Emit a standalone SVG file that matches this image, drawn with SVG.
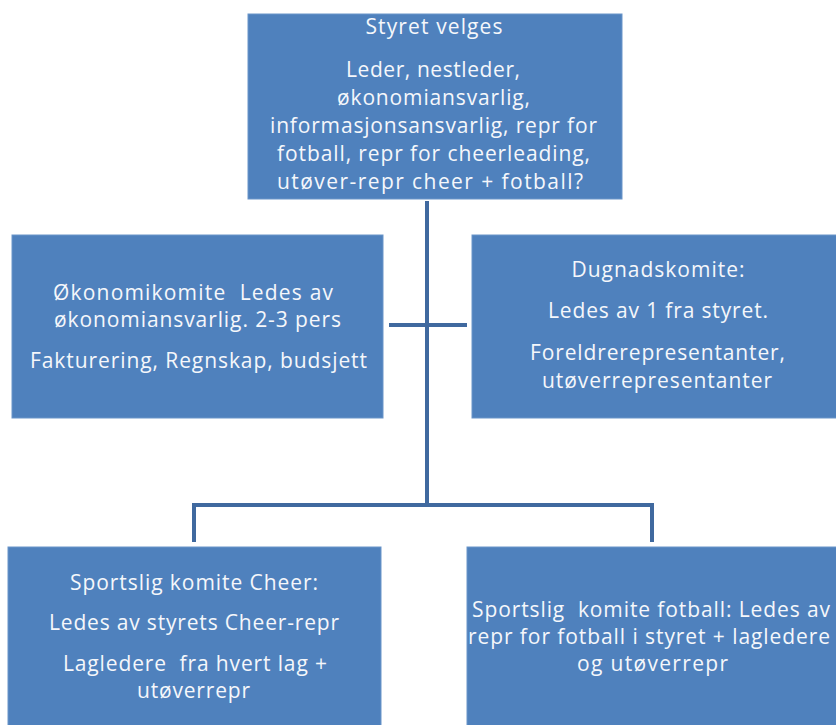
<svg xmlns="http://www.w3.org/2000/svg" width="836" height="725" viewBox="0 0 836 725">
<style>
.box{fill:#4f81bd;stroke:#6a95c9;stroke-width:1}
.t{font-family:"Open Sans",Lato,"Liberation Sans",sans-serif;font-size:21px;fill:#f5f7fb;text-anchor:middle}
.ln{stroke:#40699f;stroke-width:4;fill:none;stroke-linecap:butt}
</style>
<rect width="836" height="725" fill="#ffffff"/>
<g id="connectors">
<line class="ln" x1="427" y1="201" x2="427" y2="507"/>
<line class="ln" x1="389" y1="325" x2="467" y2="325"/>
<polyline class="ln" points="194,542 194,505 652,505 652,542"/>
</g>
<g id="styret">
<rect class="box" x="248" y="14" width="374" height="185"/>
<text class="t" x="434" y="34" textLength="137">Styret velges</text>
<text class="t" x="433" y="77" textLength="174">Leder, nestleder,</text>
<text class="t" x="433.5" y="105" textLength="193">økonomiansvarlig,</text>
<text class="t" x="433.5" y="133" textLength="327">informasjonsansvarlig, repr for</text>
<text class="t" x="433.5" y="161" textLength="313">fotball, repr for cheerleading,</text>
<text class="t" x="430" y="189" textLength="306">utøver-repr cheer + fotball?</text>
</g>
<g id="okonomikomite">
<rect class="box" x="12" y="235" width="371" height="183"/>
<text class="t" x="193" y="300" textLength="280" xml:space="preserve">Økonomikomite  Ledes av</text>
<text class="t" x="197.5" y="327" textLength="287">økonomiansvarlig. 2-3 pers</text>
<text class="t" x="198.5" y="368" textLength="337">Fakturering, Regnskap, budsjett</text>
</g>
<g id="dugnadskomite">
<rect class="box" x="472" y="235" width="372" height="183"/>
<text class="t" x="658" y="277" textLength="173">Dugnadskomite:</text>
<text class="t" x="658" y="318" textLength="220">Ledes av 1 fra styret.</text>
<text class="t" x="657.5" y="360" textLength="255">Foreldrerepresentanter,</text>
<text class="t" x="657" y="388" textLength="230">utøverrepresentanter</text>
</g>
<g id="sportslig-cheer">
<rect class="box" x="8" y="547" width="373" height="185"/>
<text class="t" x="194" y="590" textLength="248">Sportslig komite Cheer:</text>
<text class="t" x="194" y="630" textLength="290">Ledes av styrets Cheer-repr</text>
<text class="t" x="195" y="671" textLength="264" xml:space="preserve">Lagledere  fra hvert lag +</text>
<text class="t" x="193.5" y="698" textLength="113">utøverrepr</text>
</g>
<g id="sportslig-fotball">
<rect class="box" x="467" y="547" width="377" height="185"/>
<text class="t" x="651" y="617" textLength="358" xml:space="preserve">Sportslig  komite fotball: Ledes av</text>
<text class="t" x="649" y="644" textLength="362">repr for fotball i styret + lagledere</text>
<text class="t" x="652.5" y="671" textLength="151">og utøverrepr</text>
</g>
</svg>
